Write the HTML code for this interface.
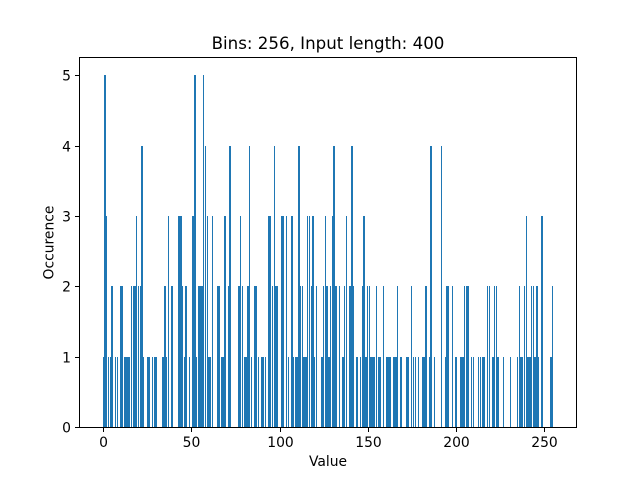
<!DOCTYPE html>
<html>
<head>
<meta charset="utf-8">
<title>Bins: 256, Input length: 400</title>
<style>
html,body{margin:0;padding:0;background:#fff;width:640px;height:480px;overflow:hidden}
svg{display:block}
text{font-family:"DejaVu Sans",sans-serif;fill:#000}
</style>
</head>
<body>
<svg id="chart" width="640" height="480" viewBox="0 0 640 480" xmlns="http://www.w3.org/2000/svg">
<rect x="0" y="0" width="640" height="480" fill="#fff"></rect>
<g id="bars"></g>
<g id="ticks"></g>
<rect x="79.5" y="57.5" width="497" height="370" fill="none" stroke="#000" stroke-width="1" shape-rendering="crispEdges"></rect>
<text x="328" y="49" font-size="16.67" text-anchor="middle">Bins: 256, Input length: 400</text>
<text x="328" y="466" font-size="13.89" text-anchor="middle">Value</text>
<text transform="translate(53.5 242.5) rotate(-90)" font-size="13.89" text-anchor="middle">Occurence</text>
</svg>
<script>
const counts = [
1,5,3,1,1,2,0,1,1,0,
2,2,1,1,1,1,2,2,2,3,
2,2,4,1,0,1,1,0,1,1,
1,0,0,0,1,2,1,3,0,2,
0,0,0,3,3,2,1,2,0,1,
0,3,5,1,2,2,2,5,4,3,
1,1,3,0,0,2,2,1,1,3,
0,2,4,0,0,0,0,2,3,2,
1,1,2,4,1,0,2,2,1,0,
1,1,1,0,3,3,2,4,2,2,
0,3,3,0,3,1,0,3,1,1,
1,4,2,2,1,1,3,3,2,3,
1,2,0,0,1,2,3,2,1,2,
3,4,2,0,2,0,1,2,3,0,
2,4,2,0,1,0,1,2,3,1,
2,2,1,1,1,2,1,1,0,2,
0,1,1,1,0,1,1,2,0,1,
0,0,1,1,0,2,1,1,0,1,
0,1,1,2,0,1,4,0,1,0,
0,0,4,0,1,2,2,0,2,0,
1,0,0,1,1,2,2,2,0,1,
1,0,0,1,1,1,1,0,2,2,
0,1,2,2,1,0,0,1,0,0,
0,1,0,0,0,1,2,1,1,2,
3,1,1,2,2,1,2,1,0,3,
0,0,0,0,1,2
];
const xTickValues = [0,50,100,150,200,250];
const yTickValues = [0,1,2,3,4,5];

const SVG_NS = 'http://www.w3.org/2000/svg';
const plotLeft = 80, plotRight = 576, plotTop = 57.6, plotBottom = 427.2;
const barWidth = 0.8;
const xMargin = (counts.length - 1 + barWidth) * 0.05;
const xMin = -barWidth / 2 - xMargin;
const xMax = counts.length - 1 + barWidth / 2 + xMargin;
const yMax = Math.max(...counts) * 1.05;

function xScale(v) {
  return plotLeft + (v - xMin) / (xMax - xMin) * (plotRight - plotLeft);
}
function yScale(v) {
  return plotBottom - v / yMax * (plotBottom - plotTop);
}

const barsGroup = document.getElementById('bars');
counts.forEach(function (count, i) {
  if (count <= 0) return;
  const left = Math.round(xScale(i - barWidth / 2));
  const right = Math.round(xScale(i + barWidth / 2));
  const top = Math.round(yScale(count));
  const bottom = Math.round(yScale(0));
  const bar = document.createElementNS(SVG_NS, 'rect');
  bar.setAttribute('x', left);
  bar.setAttribute('y', top);
  bar.setAttribute('width', Math.max(1, right - left));
  bar.setAttribute('height', bottom - top);
  bar.setAttribute('fill', '#1f77b4');
  bar.setAttribute('shape-rendering', 'crispEdges');
  
  
  barsGroup.appendChild(bar);
});

const ticksGroup = document.getElementById('ticks');
xTickValues.forEach(function (value) {
  const px = Math.round(xScale(value)) + 0.5;
  const line = document.createElementNS(SVG_NS, 'line');
  line.setAttribute('x1', px);
  line.setAttribute('x2', px);
  line.setAttribute('y1', 427);
  line.setAttribute('y2', 432);
  line.setAttribute('stroke', '#000');
  line.setAttribute('shape-rendering', 'crispEdges');
  
  
  ticksGroup.appendChild(line);
  const label = document.createElementNS(SVG_NS, 'text');
  label.setAttribute('x', px);
  label.setAttribute('y', 447);
  label.setAttribute('font-size', '13.89');
  label.setAttribute('text-anchor', 'middle');
  label.textContent = value;
  
  
  ticksGroup.appendChild(label);
});
yTickValues.forEach(function (value) {
  const py = Math.round(yScale(value)) + 0.5;
  const line = document.createElementNS(SVG_NS, 'line');
  line.setAttribute('x1', 75);
  line.setAttribute('x2', 80);
  line.setAttribute('y1', py);
  line.setAttribute('y2', py);
  line.setAttribute('stroke', '#000');
  line.setAttribute('shape-rendering', 'crispEdges');
  
  
  ticksGroup.appendChild(line);
  const label = document.createElementNS(SVG_NS, 'text');
  label.setAttribute('x', 71);
  label.setAttribute('y', py + 5);
  label.setAttribute('font-size', '13.89');
  label.setAttribute('text-anchor', 'end');
  label.textContent = value;
  
  
  ticksGroup.appendChild(label);
});
</script>
</body>
</html>
